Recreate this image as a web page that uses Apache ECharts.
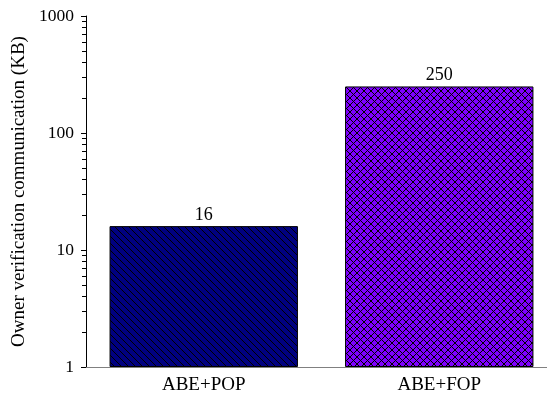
<!DOCTYPE html>
<html><head><meta charset="utf-8">
<script src="https://cdn.jsdelivr.net/npm/echarts@6/dist/echarts.min.js"></script>
<style>html,body{margin:0;padding:0;background:#fff}#c{width:547px;height:400px}</style>
</head><body><div id="c"></div>
<script>
const categories = ['ABE+POP', 'ABE+FOP'];
const values = [16, 250];
const majorTicks = [1, 10, 100, 1000];
const minorTicks = [2,3,4,5,6,7,8,9,20,30,40,50,60,70,80,90,200,300,400,500,600,700,800,900];
const yTitle = 'Owner verification communication (KB)';

function hatch(bg, cross, s) {
  const c = document.createElement('canvas');
  c.width = s; c.height = s;
  const g = c.getContext('2d');
  g.fillStyle = bg; g.fillRect(0, 0, s, s);
  g.strokeStyle = '#000'; g.lineWidth = 1;
  g.beginPath();
  for (const k of [-s, 0, s]) {
    g.moveTo(k, 0); g.lineTo(k + s, s);
    if (cross) { g.moveTo(k + s, 0); g.lineTo(k, s); }
  }
  g.stroke();
  return c;
}
const patterns = [
  {image: hatch('#000080', false, 7), repeat: 'repeat'},
  {image: hatch('#7f00ff', true, 7), repeat: 'repeat'}
];
const font = 'Liberation Serif, Times New Roman, serif';
const chart = echarts.init(document.getElementById('c'));
chart.setOption({
  animation: false,
  grid: {left: 86, width: 471, top: 16, height: 351, containLabel: false, outerBoundsMode: 'none'},
  xAxis: [{
    type: 'category', data: categories,
    axisLine: {lineStyle: {color: '#808080', width: 1}},
    axisTick: {alignWithLabel: true, length: 5, lineStyle: {color: '#555'}},
    axisLabel: {color: '#000', fontFamily: font, fontSize: 19, margin: 9}
  }, {
    type: 'category', data: categories, position: 'bottom',
    axisLine: {show: false},
    axisTick: {inside: true, length: 4, lineStyle: {color: '#555'}},
    axisLabel: {show: false}
  }],
  yAxis: [{
    type: 'log', min: 1, max: 1000, logBase: 10,
    name: yTitle, nameLocation: 'middle', nameGap: 55, nameRotate: 90,
    nameTextStyle: {color: '#000', fontFamily: font, fontSize: 19},
    axisLine: {show: true, lineStyle: {color: '#000', width: 1}},
    axisTick: {show: true, length: 5, lineStyle: {color: '#000'}, customValues: majorTicks},
    axisLabel: {color: '#000', fontFamily: font, fontSize: 17.5, margin: 12,
      customValues: majorTicks, formatter: v => String(v)},
    splitLine: {show: false}
  }, {
    type: 'log', min: 1, max: 1000, logBase: 10, position: 'left',
    axisLine: {show: false},
    axisTick: {show: true, length: 4, lineStyle: {color: '#000'}, customValues: minorTicks},
    axisLabel: {show: false},
    splitLine: {show: false}
  }],
  series: [{
    type: 'bar', barWidth: '80%',
    data: values.map((v, i) => ({value: v, itemStyle: {color: patterns[i]}})),
    itemStyle: {borderColor: '#000', borderWidth: 1},
    label: {show: true, position: 'top', distance: 2, color: '#000', fontFamily: font, fontSize: 18}
  }]
});
</script></body></html>
